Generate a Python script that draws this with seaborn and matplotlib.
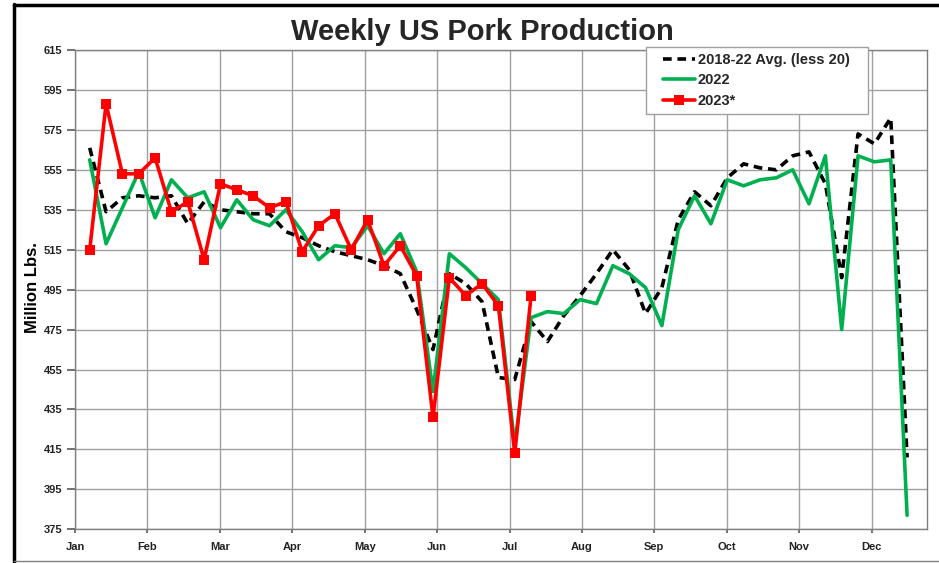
import pandas as pd
import matplotlib.pyplot as plt
from matplotlib.lines import Line2D
from matplotlib.legend_handler import HandlerLine2D
import seaborn as sns

# weekly values, million lbs
weeks = list(range(1, 52))
avg_2018_22 = [566, 534, 541, 542, 541, 542, 528, 539, 535, 534,
               533, 533, 524, 521, 517, 514, 512, 510, 507, 503,
               485, 465, 503, 498, 489, 451, 450, 479, 469, 482,
               492, 503, 515, 505, 483, 496, 530, 544, 537, 551,
               558, 556, 555, 562, 564, 548, 501, 573, 568, 581, 411]
prod_2022 = [560, 518, 536, 554, 531, 550, 541, 544, 526, 540,
             530, 527, 535, 524, 510, 517, 516, 527, 513, 523,
             504, 444, 513, 506, 498, 490, 417, 481, 484, 483,
             490, 488, 507, 503, 496, 477, 525, 542, 528, 550,
             547, 550, 551, 555, 538, 562, 475, 562, 559, 560, 382]
prod_2023 = [515, 588, 553, 553, 561, 534, 539, 510, 548, 545,
             542, 536, 539, 514, 527, 533, 515, 530, 507, 517,
             502, 431, 501, 492, 498, 487, 413, 492]

month_labels = ["Jan", "Feb", "Mar", "Apr", "May", "Jun",
                "Jul", "Aug", "Sep", "Oct", "Nov", "Dec"]
y_ticks = list(range(375, 616, 20))

sns.set_theme(style="whitegrid")
plt.rcParams["font.family"] = ["Liberation Sans", "DejaVu Sans"]

fig = plt.figure(figsize=(9.39, 5.63), dpi=100)
fig.patch.set_facecolor("white")
ax = fig.add_axes([75 / 939, 33.7 / 563, 851.7 / 939, 479.3 / 563])
ax.set_facecolor("white")

df_avg = pd.DataFrame({"week": weeks, "value": avg_2018_22})
df_22 = pd.DataFrame({"week": weeks, "value": prod_2022})
df_23 = pd.DataFrame({"week": weeks[:len(prod_2023)], "value": prod_2023})

sns.lineplot(data=df_avg, x="week", y="value", ax=ax, color="black",
             linewidth=2.6, linestyle=(0, (2.4, 1.6)),
             label="2018-22 Avg. (less 20)")
sns.lineplot(data=df_22, x="week", y="value", ax=ax, color="#00B050",
             linewidth=2.6, label="2022")
sns.lineplot(data=df_23, x="week", y="value", ax=ax, color="#FF0000",
             linewidth=2.6, marker="s", markersize=7, markeredgewidth=0,
             label="2023*")

# month ticks spaced evenly across the week axis
month_pos = [0.1 + 4.43 * i for i in range(12)]
ax.set_xlim(0.1, 52.2)
ax.set_ylim(375, 615)
ax.set_xticks(month_pos, month_labels)
ax.set_yticks(y_ticks)
ax.tick_params(axis="y", length=6, left=True, color="#606060", labelsize=8, pad=3)
ax.tick_params(axis="x", length=3, bottom=True, color="#606060", labelsize=8, pad=6)
for lbl in ax.get_xticklabels() + ax.get_yticklabels():
    lbl.set_fontweight("bold")
    lbl.set_color("#222222")

ax.grid(True, color="#a0a0a0", linewidth=1.0)
for sp in ax.spines.values():
    sp.set_color("#808080")
    sp.set_linewidth(1.0)

ax.set_xlabel("")
ax.set_ylabel("Million Lbs.", fontsize=12, fontweight="bold", color="black")
ax.yaxis.set_label_coords(-0.0415, 0.505)

fig.text(482 / 939, 1 - 32 / 563, "Weekly US Pork Production",
         ha="center", va="center", fontsize=21, fontweight="bold")

# legend box fixed to the reference frame, handles inset a little
leg = ax.legend(loc="upper left",
                bbox_to_anchor=(646 / 939, 1 - 112 / 563, 222 / 939, 65 / 563),
                bbox_transform=fig.transFigure, mode="expand",
                frameon=True, fancybox=False, edgecolor="#a0a0a0", framealpha=1,
                borderpad=0.4, labelspacing=0.45, handlelength=2.95,
                handletextpad=0.2, borderaxespad=0,
                handler_map={Line2D: HandlerLine2D(xpad=0.75)},
                prop={"weight": "bold", "size": 10.5})
leg.get_frame().set_linewidth(1.0)

# outer border of the picture
fig.add_artist(Line2D([0.0144, 0.0144], [0.002, 0.993], transform=fig.transFigure,
                      color="black", linewidth=2.5))
fig.add_artist(Line2D([0.0144, 1.0], [0.992, 0.992], transform=fig.transFigure,
                      color="black", linewidth=2.5))
fig.add_artist(Line2D([0.0144, 1.0], [0.0027, 0.0027], transform=fig.transFigure,
                      color="#808080", linewidth=1.0))

fig.savefig("out.png", dpi=100)
plt.close(fig)
